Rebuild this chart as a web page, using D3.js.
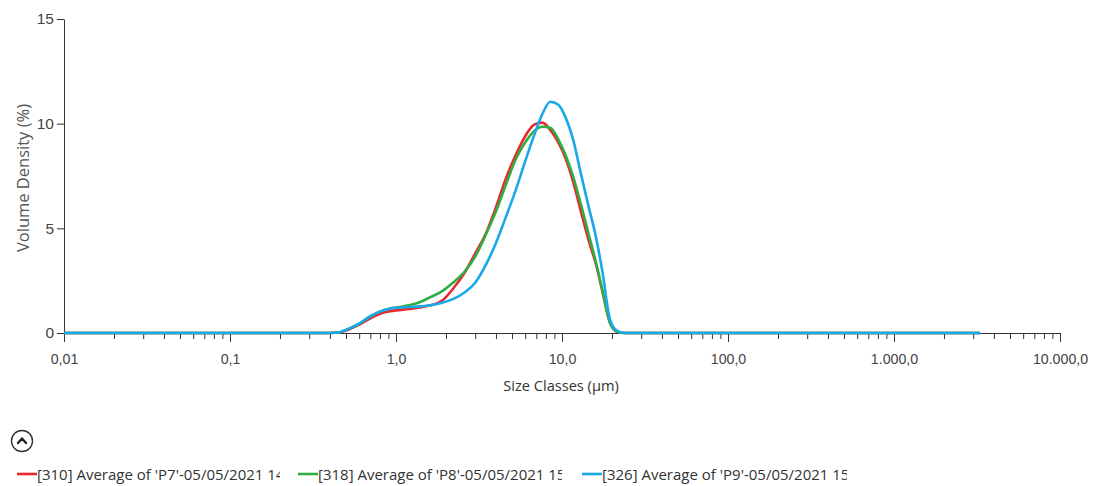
<!DOCTYPE html>
<html>
<head>
<meta charset="utf-8">
<script src="https://cdn.jsdelivr.net/npm/d3@7"></script>
<style>
  body { margin: 0; background: #fff; }
  svg { display: block; font-family: "Open Sans", "Noto Sans", sans-serif; }
  .tick text { fill: #444; }
  .domain, .tick line { stroke: #333; }
</style>
</head>
<body>
<svg id="chart" width="1093" height="486"></svg>
<script>
// size classes (µm) shared by all three measurements
const sizes = [0.01, 0.1, 0.2, 0.3, 0.4, 0.45, 0.5, 0.6, 0.7, 0.8, 0.9, 1.0, 1.2, 1.4, 1.6, 1.9,
  2.2, 2.6, 3.0, 3.5, 4.0, 4.6, 5.3, 6.0, 6.8, 7.6, 8.5, 9.5, 10.5, 11.7, 13, 14.5, 16, 17.5,
  19.5, 21.5, 24, 30, 100, 1000, 3300];

const p7 = [0, 0, 0, 0, 0, 0.02, 0.12, 0.4, 0.7, 0.92, 1.03, 1.08, 1.15, 1.22, 1.32, 1.55,
  2.1, 2.9, 3.8, 4.8, 6.0, 7.4, 8.55, 9.4, 9.95, 10.05, 9.7, 9.1, 8.35, 7.2, 5.8, 4.4, 3.3, 2.0,
  0.47, 0.06, 0, 0, 0, 0, 0];

const p8 = [0, 0, 0, 0, 0, 0.02, 0.15, 0.45, 0.78, 1.02, 1.15, 1.22, 1.32, 1.48, 1.7, 2.0,
  2.4, 2.95, 3.65, 4.75, 5.8, 7.1, 8.35, 9.1, 9.65, 9.85, 9.8, 9.25, 8.5, 7.45, 6.15, 4.7, 3.4, 2.05,
  0.47, 0.06, 0, 0, 0, 0, 0];

const p9 = [0, 0, 0, 0, 0, 0.02, 0.15, 0.45, 0.8, 1.02, 1.15, 1.2, 1.24, 1.27, 1.33, 1.45,
  1.62, 1.95, 2.4, 3.3, 4.3, 5.56, 6.9, 8.2, 9.45, 10.45, 11.05, 10.9, 10.3, 9.2, 7.6, 6.0, 4.6, 2.95,
  0.62, 0.1, 0, 0, 0, 0, 0];

const seriesNames = [
  "[310] Average of 'P7'-05/05/2021 14:",
  "[318] Average of 'P8'-05/05/2021 15:",
  "[326] Average of 'P9'-05/05/2021 15:"
];
const seriesColors = ["#e8282e", "#2fae44", "#19a8ea"];

const xTickValues = [0.01, 0.1, 1, 10, 100, 1000, 10000];
const xTickLabels = ["0,01", "0,1", "1,0", "10,0", "100,0", "1.000,0", "10.000,0"];
const yTickValues = [0, 5, 10, 15];

const svg = d3.select("#chart");
const x = d3.scaleLog().domain([0.01, 10000]).range([64, 1060]);
const y = d3.scaleLinear().domain([0, 15]).range([333, 19]);

// minor ticks first so major ticks sit on top
svg.append("g")
  .attr("transform", `translate(0,${y(0)})`)
  .call(d3.axisBottom(x).tickValues(x.ticks()).tickSize(6).tickFormat(""))
  .call(g => g.select(".domain").remove());

svg.append("g")
  .attr("transform", `translate(0,${y(0)})`)
  .call(d3.axisBottom(x)
    .tickValues(xTickValues)
    .tickSize(9)
    .tickSizeOuter(0)
    .tickFormat((d, i) => xTickLabels[i]))
  .call(g => g.selectAll("text").attr("y", 31).attr("dy", null).attr("font-size", 14.2));

svg.append("g")
  .attr("transform", `translate(${x(0.01)},0)`)
  .call(d3.axisLeft(y).tickValues(yTickValues).tickSize(7).tickSizeOuter(0).tickPadding(3))
  .call(g => g.selectAll("text").attr("font-size", 15.5));

svg.append("text")
  .attr("x", 561).attr("y", 391)
  .attr("text-anchor", "middle")
  .attr("font-size", 14.6).attr("fill", "#333")
  .text("Size Classes (µm)");

svg.append("text")
  .attr("transform", "translate(29,178) rotate(-90)")
  .attr("text-anchor", "middle")
  .attr("font-size", 16.5).attr("fill", "#555")
  .text("Volume Density (%)");

const line = d3.line()
  .x(d => x(d[0]))
  .y(d => y(d[1]))
  .curve(d3.curveMonotoneX);

[p7, p8, p9].forEach((vals, i) => {
  svg.append("path")
    .datum(sizes.map((s, j) => [s, vals[j]]))
    .attr("fill", "none")
    .attr("stroke", seriesColors[i])
    .attr("stroke-width", 2.6)
    .attr("stroke-linejoin", "round")
    .attr("d", line);
});

// collapse button
const btn = svg.append("g").attr("transform", "translate(22,441)");
btn.append("circle").attr("r", 10.5).attr("fill", "none").attr("stroke", "#333").attr("stroke-width", 1.4);
btn.append("path").attr("d", "M-4,2 L0,-2.5 L4,2").attr("fill", "none")
  .attr("stroke", "#222").attr("stroke-width", 2.4).attr("stroke-linecap", "round").attr("stroke-linejoin", "round");

// legend (labels are cut off as in the original export)
const legendX = [17, 298, 582];
const legendEnd = [280, 562, 847];
seriesNames.forEach((name, i) => {
  svg.append("clipPath").attr("id", "clip" + i)
    .append("rect").attr("x", legendX[i]).attr("y", 458)
    .attr("width", legendEnd[i] - legendX[i]).attr("height", 28);
  svg.append("line")
    .attr("x1", legendX[i]).attr("x2", legendX[i] + 20)
    .attr("y1", 474).attr("y2", 474)
    .attr("stroke", seriesColors[i]).attr("stroke-width", 2.6);
  svg.append("text")
    .attr("clip-path", `url(#clip${i})`)
    .attr("x", legendX[i] + 20).attr("y", 480)
    .attr("font-size", 15).attr("fill", "#333")
    .text(name);
});
</script>
</body>
</html>
